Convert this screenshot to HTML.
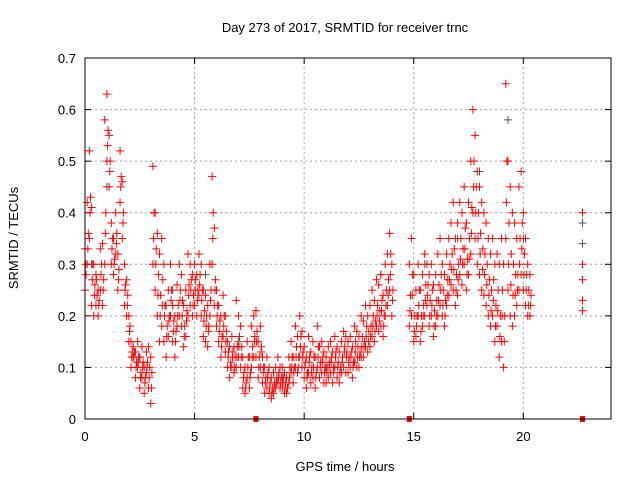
<!DOCTYPE html>
<html><head><meta charset="utf-8"><style>
body{margin:0;background:#fff}
svg{display:block;font-family:"Liberation Sans",sans-serif}
</style></head><body>
<svg id="chart" width="640" height="480" viewBox="0 0 640 480">
<rect width="640" height="480" fill="#fff"/>
<text x="345" y="32" font-size="13" text-anchor="middle">Day 273 of 2017, SRMTID for receiver trnc</text>
<g id="grid"></g>
<g id="ticks"></g>
<g id="marks"></g>
<rect x="85" y="58" width="526" height="361" fill="none" stroke="#000" stroke-width="1"/>
<text x="345" y="471" font-size="13" text-anchor="middle">GPS time / hours</text>
<text transform="translate(18,238) rotate(-90)" font-size="13" text-anchor="middle">SRMTID / TECUs</text>
</svg>
<script>
const xTicks=[0,5,10,15,20];
const yTicks=[0,0.1,0.2,0.3,0.4,0.5,0.6,0.7];
const yTickLabels=["0","0.1","0.2","0.3","0.4","0.5","0.6","0.7"];
const seg1Start=0.0, seg2Start=14.8, stepH=0.1;
const redA1=[.33,.42,.52,.41,.3,.28,.25,.33,.34,.58,.63,.55,.38,.35,.4,.32,.52,.46,.3,.27,.2,.15,.14,.13,.15,.12,.14,.1,.13,.14,.12,.49,.4,.36,.32,.35,.3,.22,.25,.3,.22,.2,.26,.3,.28,.22,.25,.32,.3,.28,.3,.28,.32,.3,.25,.24,.22,.3,.47,.37,.25,.22,.2,.24,.2,.15,.14,.16,.14,.23,.2,.18,.12,.1,.15,.12,.18,.2,.21,.15,.18,.12,.1,.12,.1,.08,.09,.1,.12,.1,.1,.09,.08,.12,.15,.12,.18,.16,.2,.17,.14,.12,.16,.13,.15,.12,.18,.14,.15,.13,.12,.14,.15,.13,.16,.14,.13,.15,.17,.16,.15,.16,.14,.18,.17,.16,.2,.19,.22,.2,.22,.25,.23,.27,.26,.28,.24,.3,.32,.36,.3];
const redB1=[.25,.3,.35,.22,.2,.22,.2,.25,.22,.3,.5,.45,.3,.28,.32,.25,.42,.35,.22,.2,.15,.1,.12,.08,.1,.06,.08,.05,.09,.06,.03,.3,.25,.2,.15,.18,.15,.12,.16,.2,.15,.12,.18,.2,.18,.14,.16,.2,.22,.2,.22,.2,.24,.2,.16,.15,.14,.2,.3,.22,.18,.15,.12,.16,.13,.1,.08,.1,.09,.1,.12,.1,.06,.05,.08,.06,.1,.12,.12,.08,.1,.07,.05,.06,.05,.04,.05,.06,.07,.06,.06,.05,.05,.07,.09,.07,.1,.09,.12,.1,.08,.06,.09,.07,.08,.06,.1,.08,.09,.07,.07,.08,.09,.07,.1,.08,.07,.09,.1,.09,.09,.1,.08,.11,.1,.1,.12,.12,.14,.13,.14,.16,.15,.18,.17,.18,.16,.2,.22,.25,.2];
const redC1=[.28,.36,.43,.3,.26,.24,.23,.3,.27,.4,.56,.5,.35,.31,.36,.29,.47,.4,.26,.24,.18,.13,.13,.11,.12,.09,.11,.08,.11,.1,.09,.4,.33,.28,.24,.27,.22,.18,.2,.25,.19,.17,.22,.25,.23,.18,.21,.26,.27,.24,.27,.25,.28,.25,.21,.2,.18,.25,.4,.27,.22,.19,.16,.2,.17,.13,.11,.13,.12,.14,.16,.14,.09,.07,.12,.09,.14,.16,.17,.12,.14,.1,.08,.09,.07,.06,.07,.08,.09,.08,.08,.07,.06,.1,.12,.1,.14,.12,.16,.13,.11,.09,.12,.1,.12,.09,.14,.11,.12,.1,.1,.11,.12,.1,.13,.11,.1,.12,.14,.13,.12,.13,.11,.15,.14,.13,.16,.15,.18,.17,.18,.2,.19,.22,.21,.23,.2,.25,.27,.32,.25];
const redD1=[.3,.33,.4,.27,.24,.27,.22,.28,.25,.36,.53,.48,.33,.3,.34,.27,.45,.38,.25,.22,.17,.12,.12,.1,.11,.08,.1,.07,.1,.08,.06,.35,.3,.24,.2,.22,.2,.16,.19,.23,.17,.15,.2,.23,.2,.16,.19,.24,.25,.22,.25,.23,.26,.23,.19,.18,.17,.23,.35,.25,.2,.17,.14,.18,.15,.12,.1,.12,.1,.12,.14,.12,.08,.06,.1,.08,.12,.15,.15,.1,.13,.09,.07,.08,.06,.05,.06,.07,.08,.07,.07,.06,.06,.08,.1,.09,.12,.1,.14,.12,.1,.08,.11,.09,.1,.08,.12,.1,.11,.09,.09,.1,.11,.09,.12,.1,.09,.11,.13,.12,.11,.12,.1,.13,.12,.12,.14,.14,.16,.15,.16,.18,.17,.2,.19,.21,.18,.22,.24,.28,.23];
const redA2=[.3,.35,.28,.25,.3,.25,.28,.32,.3,.28,.3,.26,.28,.32,.35,.3,.28,.32,.35,.38,.42,.35,.38,.42,.4,.45,.38,.42,.5,.6,.55,.48,.45,.42,.4,.38,.35,.32,.35,.3,.32,.3,.35,.3,.65,.5,.45,.4,.38,.35,.45,.48,.4,.35,.3,.28];
const redB2=[.18,.2,.15,.16,.2,.15,.18,.2,.22,.18,.2,.16,.18,.2,.22,.2,.18,.22,.24,.26,.25,.22,.24,.28,.26,.3,.25,.28,.32,.4,.35,.3,.28,.25,.24,.22,.2,.18,.2,.15,.18,.12,.15,.1,.35,.25,.2,.18,.2,.22,.25,.28,.25,.22,.2,.2];
const redC2=[.24,.28,.2,.2,.25,.2,.22,.26,.26,.23,.25,.21,.23,.26,.28,.25,.23,.27,.3,.32,.33,.28,.3,.35,.33,.37,.31,.35,.41,.5,.45,.4,.36,.33,.32,.3,.27,.25,.27,.22,.25,.2,.25,.2,.5,.38,.32,.3,.28,.28,.35,.38,.32,.28,.25,.24];
const redD2=[.21,.24,.17,.18,.22,.17,.2,.23,.24,.2,.22,.18,.2,.23,.25,.22,.2,.24,.27,.29,.29,.25,.27,.31,.3,.33,.28,.31,.36,.45,.4,.35,.32,.29,.28,.26,.24,.21,.23,.18,.21,.16,.2,.15,.42,.3,.26,.24,.24,.25,.3,.33,.28,.25,.22,.22];
const lateTimes=[22.7,22.7,22.7,22.7,22.7];
const lateValues=[.4,.3,.27,.23,.21];
const grayTimes=[0.3,1.0,2.5,4.0,5.5,7.0,9.0,11.0,13.5,15.5,17.0,18.0,19.3,20.0,22.7,22.7];
const grayValues=[.3,.45,.12,.25,.28,.15,.08,.1,.28,.3,.35,.48,.58,.35,.38,.34];
const gapTimes=[7.8,14.8,22.7];
const gapValues=[0,0,0];

const X0=85,X1=611,Y0=419,Y1=58,XMAX=24,YMAX=0.7;
const xs=v=>X0+(X1-X0)*v/XMAX;
const ys=v=>Y0-(Y0-Y1)*v/YMAX;
const NS="http://www.w3.org/2000/svg";
function mk(tag,attrs,parent){const e=document.createElementNS(NS,tag);for(const k in attrs)e.setAttribute(k,attrs[k]);parent.appendChild(e);return e;}
const grid=document.getElementById('grid'),ticks=document.getElementById('ticks'),marks=document.getElementById('marks');
xTicks.forEach(t=>{
  const x=xs(t);
  if(t>0){const g=mk('line',{x1:x,x2:x,y1:Y0,y2:Y1,stroke:'#a0a0a0','stroke-dasharray':'2,3'},grid);
  
  }
  const l=mk('text',{x:x,y:Y0+22,'font-size':13,'text-anchor':'middle'},ticks);l.textContent=t;
  
  
  mk('line',{x1:x,x2:x,y1:Y0,y2:Y0-6,stroke:'#000'},ticks);
  mk('line',{x1:x,x2:x,y1:Y1,y2:Y1+6,stroke:'#000'},ticks);
});
yTicks.forEach((t,i)=>{
  const y=ys(t);
  if(t>0&&t<0.7){const g=mk('line',{x1:X0,x2:X1,y1:y,y2:y,stroke:'#a0a0a0','stroke-dasharray':'2,3'},grid);
  
  }
  const l=mk('text',{x:X0-9,y:y+5,'font-size':13,'text-anchor':'end'},ticks);l.textContent=yTickLabels[i];
  
  
  mk('line',{x1:X0,x2:X0+6,y1:y,y2:y,stroke:'#000'},ticks);
  mk('line',{x1:X1,x2:X1-6,y1:y,y2:y,stroke:'#000'},ticks);
});
function plus(t,v,color){
  const x=xs(t),y=ys(v);
  const p=mk('path',{d:`M${x-4},${y}H${x+4}M${x},${y-4}V${y+4}`,stroke:color,'stroke-width':1,fill:'none'},marks);
  
  
}
grayTimes.forEach((t,i)=>plus(t,grayValues[i],'#555'));
[[redA1,seg1Start],[redB1,seg1Start],[redC1,seg1Start+0.05],[redD1,seg1Start+0.03],
 [redA2,seg2Start],[redB2,seg2Start],[redC2,seg2Start+0.05],[redD2,seg2Start+0.03]].forEach(([arr,s])=>{
  arr.forEach((v,i)=>plus(s+i*stepH,v,'#f00'));
});
lateTimes.forEach((t,i)=>plus(t,lateValues[i],'#f00'));
gapTimes.forEach((t,i)=>{
  const r=mk('rect',{x:xs(t)-2.5,y:ys(gapValues[i])-3,width:5,height:6,fill:'#f00'},marks);
  
  
});
</script>
</body></html>
